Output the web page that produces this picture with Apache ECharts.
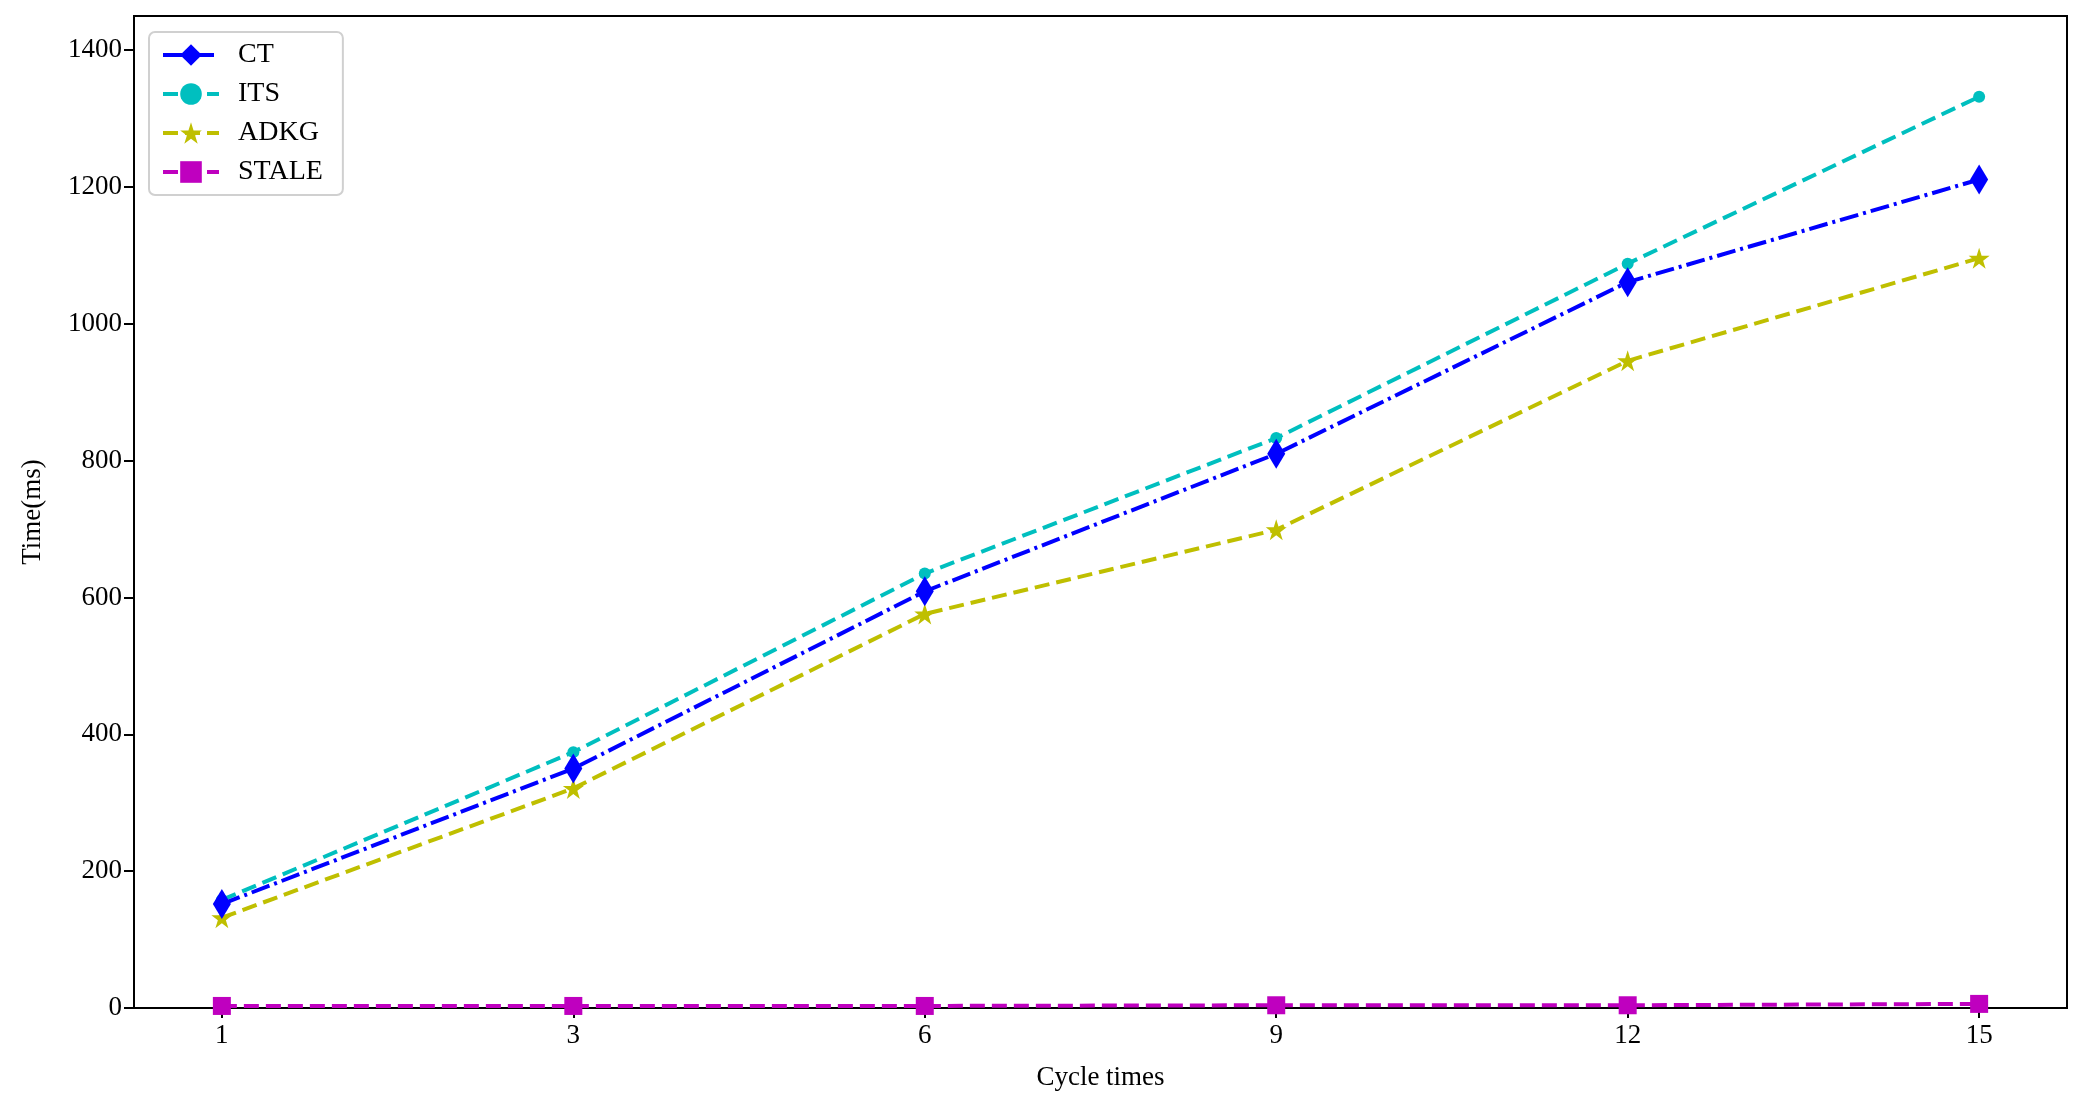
<!DOCTYPE html>
<html>
<head>
<meta charset="utf-8">
<script src="https://cdn.jsdelivr.net/npm/echarts@6/dist/echarts.min.js"></script>
<style>html,body{margin:0;padding:0;background:#fff;}#c{width:2088px;height:1102px;}</style>
</head>
<body>
<div id="c"></div>
<script>
const xLabels = ['1', '3', '6', '9', '12', '15'];
const yTicks = [0, 200, 400, 600, 800, 1000, 1200, 1400];
const ctValues = [152, 350, 609, 810, 1061, 1211];
const itsValues = [158, 374, 635, 833, 1088, 1332];
const adkgValues = [132, 321, 576, 699, 946, 1096];
const staleValues = [3, 3, 3, 4, 4, 6];

const toPts = vals => vals.map((v, i) => [i, v]);
const FONT = '"Liberation Serif", "DejaVu Serif", serif';

const chart = echarts.init(document.getElementById('c'), null, {renderer: 'canvas'});
chart.setOption({
  backgroundColor: '#fff',
  animation: false,
  textStyle: {fontFamily: FONT},
  grid: {left: 134, right: 21, top: 16, bottom: 94, show: true, borderColor: '#000', borderWidth: 2, backgroundColor: 'transparent'},
  legend: {
    left: 149, top: 32, orient: 'vertical',
    padding: [9, 20, 9, 12],
    itemGap: 11, itemWidth: 56, itemHeight: 27,
    borderColor: '#d0d0d0', borderWidth: 2, borderRadius: 6,
    backgroundColor: '#fff',
    lineStyle: {width: 4},
    textStyle: {fontFamily: FONT, fontSize: 28, color: '#000', padding: [0, 0, 0, 14]},
    data: ['CT', 'ITS', 'ADKG', 'STALE']
  },
  xAxis: {
    type: 'value', min: -0.25, max: 5.25,
    name: 'Cycle times', nameLocation: 'middle', nameGap: 56,
    nameTextStyle: {fontFamily: FONT, fontSize: 27, color: '#000'},
    axisLine: {show: true, onZero: false, lineStyle: {color: '#000', width: 2}},
    axisTick: {show: true, inside: false, length: 10, lineStyle: {color: '#000', width: 2}, customValues: [0, 1, 2, 3, 4, 5]},
    axisLabel: {fontFamily: FONT, fontSize: 27, color: '#000', margin: 14, customValues: [0, 1, 2, 3, 4, 5], formatter: v => xLabels[Math.round(v)]},
    splitLine: {show: false}
  },
  yAxis: {
    type: 'value', min: 0, max: 1450,
    name: 'Time(ms)', nameLocation: 'middle', nameGap: 88, nameRotate: 90,
    nameTextStyle: {fontFamily: FONT, fontSize: 27, color: '#000'},
    axisLine: {show: true, onZero: false, lineStyle: {color: '#000', width: 2}},
    axisTick: {show: true, inside: false, length: 10, lineStyle: {color: '#000', width: 2}, customValues: yTicks},
    axisLabel: {fontFamily: FONT, fontSize: 27, color: '#000', margin: 12, customValues: yTicks, formatter: v => String(v)},
    splitLine: {show: false}
  },
  series: [
    {
      name: 'CT', type: 'line', data: toPts(ctValues),
      symbol: 'diamond', symbolSize: [18, 30],
      itemStyle: {color: '#0000ff'},
      lineStyle: {color: '#0000ff', width: 4, type: [19, 5, 3, 5]},
      z: 4
    },
    {
      name: 'ITS', type: 'line', data: toPts(itsValues),
      symbol: 'circle', symbolSize: 12,
      itemStyle: {color: '#00bfbf'},
      lineStyle: {color: '#00bfbf', width: 4, type: [15, 7]},
      z: 3
    },
    {
      name: 'ADKG', type: 'line', data: toPts(adkgValues),
      symbol: 'path://M0,-1 L0.2245,-0.309 L0.951,-0.309 L0.363,0.118 L0.588,0.809 L0,0.382 L-0.588,0.809 L-0.363,0.118 L-0.951,-0.309 L-0.2245,-0.309 Z',
      symbolSize: 21,
      itemStyle: {color: '#bfbf00'},
      lineStyle: {color: '#bfbf00', width: 4, type: [15, 7]},
      z: 2
    },
    {
      name: 'STALE', type: 'line', data: toPts(staleValues),
      symbol: 'rect', symbolSize: 18,
      itemStyle: {color: '#bf00bf'},
      lineStyle: {color: '#bf00bf', width: 4, type: [15, 7]},
      z: 1
    }
  ]
});
</script>
</body>
</html>
